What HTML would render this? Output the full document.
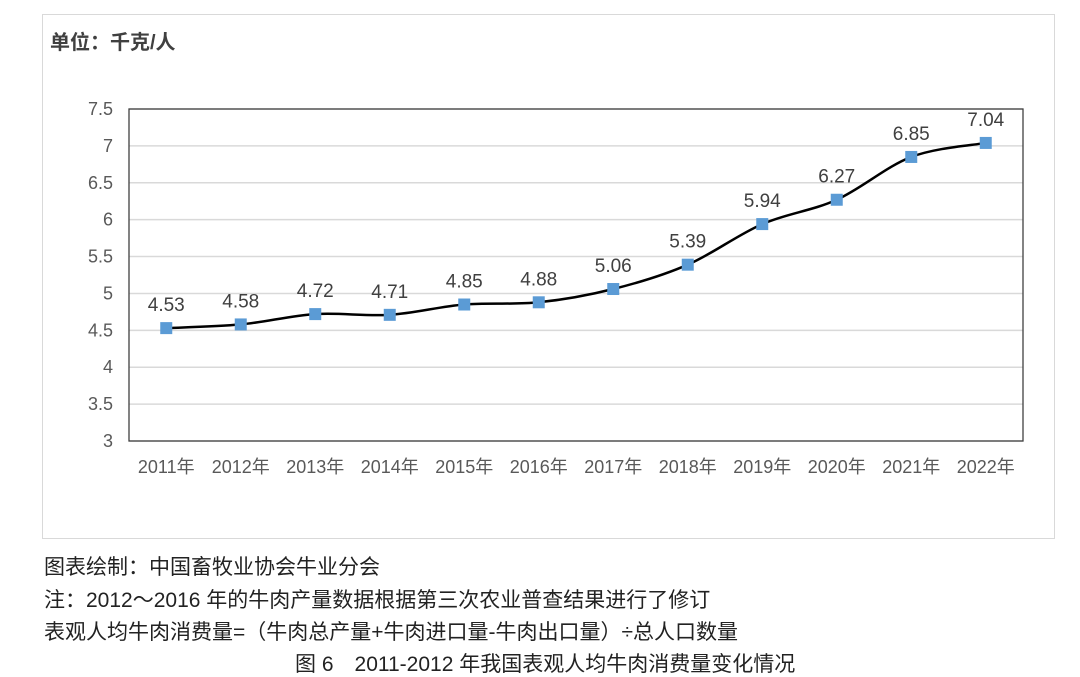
<!DOCTYPE html>
<html><head><meta charset="utf-8"><style>
body{margin:0;width:1080px;height:676px;background:#fff;font-family:"Liberation Sans","Noto Sans CJK SC",sans-serif;position:relative;overflow:hidden}
.box{position:absolute;left:42px;top:14px;width:1011px;height:523px;border:1px solid #d9d9d9}
.note{position:absolute;left:44px;font-size:21px;color:#222;white-space:nowrap;line-height:24px}
</style></head><body>
<div class="box"></div>
<svg width="1080" height="676" style="position:absolute;left:0;top:0" id="chart">
<text x="50" y="49" font-size="20" font-weight="bold" fill="#404040" font-family="Liberation Sans,Noto Sans CJK SC,sans-serif">单位：千克/人</text>
</svg>
<div class="note" style="top:556px">图表绘制：中国畜牧业协会牛业分会</div>
<div class="note" style="top:589px">注：2012～2016 年的牛肉产量数据根据第三次农业普查结果进行了修订</div>
<div class="note" style="top:621px">表观人均牛肉消费量=（牛肉总产量+牛肉进口量-牛肉出口量）÷总人口数量</div>
<div class="note" style="top:653px;left:295px">图 6　2011-2012 年我国表观人均牛肉消费量变化情况</div>
<script>
const categories=["2011年","2012年","2013年","2014年","2015年","2016年","2017年","2018年","2019年","2020年","2021年","2022年"];
const values=[4.53,4.58,4.72,4.71,4.85,4.88,5.06,5.39,5.94,6.27,6.85,7.04];
const yTicks=[3,3.5,4,4.5,5,5.5,6,6.5,7,7.5];
const svg=document.getElementById('chart');const NS='http://www.w3.org/2000/svg';
const L=129,R=1023,T=109,B=441,yMin=3,yMax=7.5;
const bw=(R-L)/categories.length;
const x=i=>L+bw*(i+0.5);
const y=v=>B-(v-yMin)/(yMax-yMin)*(B-T);
function mk(t,a){const e=document.createElementNS(NS,t);for(const k in a)e.setAttribute(k,a[k]);svg.appendChild(e);return e;}
yTicks.forEach(v=>{
 const g=mk('line',{x1:L,x2:R,y1:y(v),y2:y(v),stroke:'#d9d9d9','stroke-width':1.5});
 
 
 const t=mk('text',{x:L-16,y:y(v)+6,'text-anchor':'end','font-size':18,fill:'#595959'});
 t.textContent=v;
 
 
});
const fr=mk('rect',{x:L,y:T,width:R-L,height:B-T,fill:'none',stroke:'#404040','stroke-width':1.3});


categories.forEach((c,i)=>{
 const t=mk('text',{x:x(i),y:473,'text-anchor':'middle','font-size':18,fill:'#595959'});
 t.textContent=c;
 
 
});
const P=values.map((v,i)=>[x(i),y(v)]);
let d='M'+P[0][0]+','+P[0][1];
for(let i=0;i<P.length-1;i++){
 const p0=P[Math.max(0,i-1)],p1=P[i],p2=P[i+1],p3=P[Math.min(P.length-1,i+2)],k=1/6;
 d+=` C${p1[0]+(p2[0]-p0[0])*k},${p1[1]+(p2[1]-p0[1])*k} ${p2[0]-(p3[0]-p1[0])*k},${p2[1]-(p3[1]-p1[1])*k} ${p2[0]},${p2[1]}`;
}
const ln=mk('path',{d:d,fill:'none',stroke:'#000','stroke-width':2.5});


values.forEach((v,i)=>{
 const m=mk('rect',{x:x(i)-6,y:y(v)-6,width:12,height:12,fill:'#5b9bd5'});
 
 
 const t=mk('text',{x:x(i),y:y(v)-17,'text-anchor':'middle','font-size':19,fill:'#404040'});
 t.textContent=v.toFixed(2);
 
 
});
</script>
</body></html>
